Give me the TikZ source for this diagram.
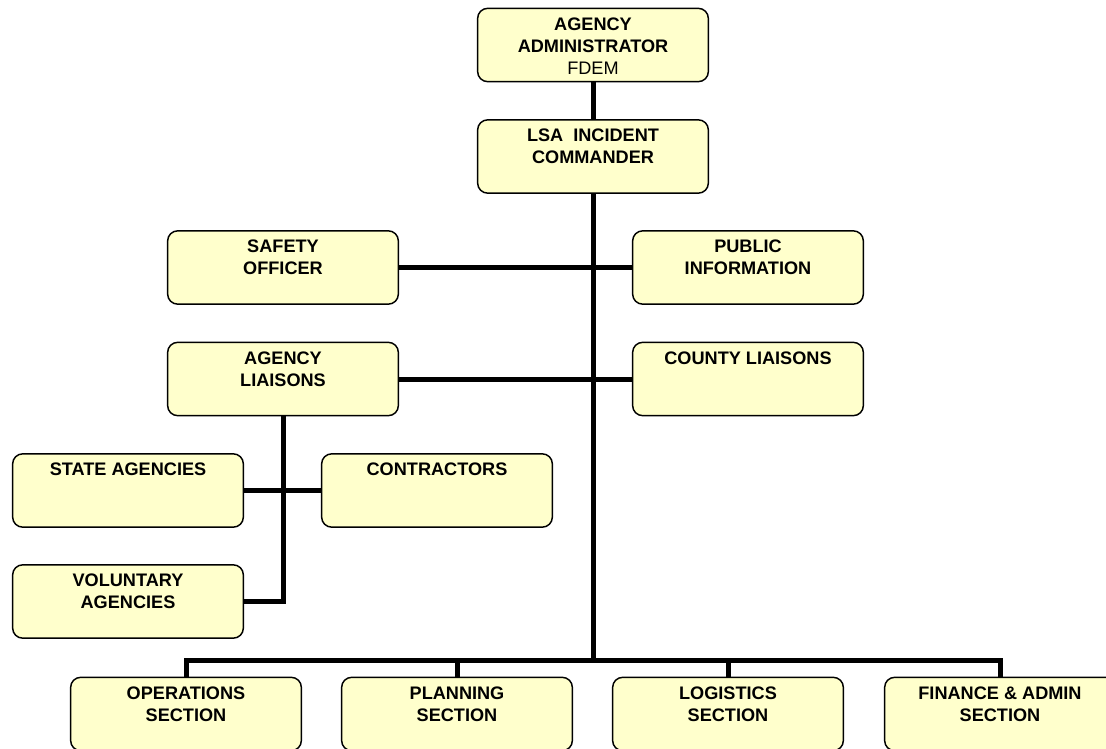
\documentclass[tikz,border=0pt]{standalone}
\usepackage{fontspec}
\setmainfont{Liberation Sans}
\usepackage{tikz}
\usetikzlibrary{positioning}
\definecolor{OrgBoxFill}{RGB}{255,255,204}

\begin{document}
\begin{tikzpicture}[x=0.75pt,y=-0.75pt,
  box/.style={draw,fill=OrgBoxFill,rounded corners=7.5pt,line width=1.1pt,minimum width=173pt,minimum height=55pt,inner sep=0pt},
  txt/.style={anchor=north,align=center,inner sep=0pt,font=\bfseries\fontsize{13.6}{16.5}\selectfont},
  link/.style={line width=3.75pt,line join=miter}]
\clip (0,0) rectangle (1106,749);
\foreach \n/\x/\y/\t in %
{admin/593/45/{AGENCY\\ADMINISTRATOR\\\mdseries FDEM},
 ic/593/156.5/{LSA\ \ INCIDENT\\COMMANDER},
 safety/283/267.5/{SAFETY\\OFFICER},
 public/748/267.5/{PUBLIC\\INFORMATION},
 agency/283/379/{AGENCY\\LIAISONS},
 county/748/379/{COUNTY LIAISONS},
 state/128/490.5/{STATE AGENCIES},
 contr/437/490.5/{CONTRACTORS},
 vol/128/601.5/{VOLUNTARY\\AGENCIES},
 ops/186/714/{OPERATIONS\\SECTION},
 plan/457/714/{PLANNING\\SECTION},
 log/728/714/{LOGISTICS\\SECTION},
 fin/1000/714/{FINANCE \& ADMIN\\SECTION}} {
   \node[box] (\n) at (\x,\y) {};
   \node[txt,below=7.4pt of \n.north] (\n-t) {\t};
}
% chain of command
\coordinate (bus) at (593,660);
\draw[link] (admin) -- (ic);
\draw[link] (ic) -- (bus);
\foreach \s in {ops,plan,log,fin} {
   \draw[link] (bus) -| (\s.north);
}
\draw[link] (safety) -- (public);
\draw[link] (agency) -- (county);
\draw[link] (agency.south) |- (vol.east);
\draw[link] (state) -- (contr);
\end{tikzpicture}
\end{document}
